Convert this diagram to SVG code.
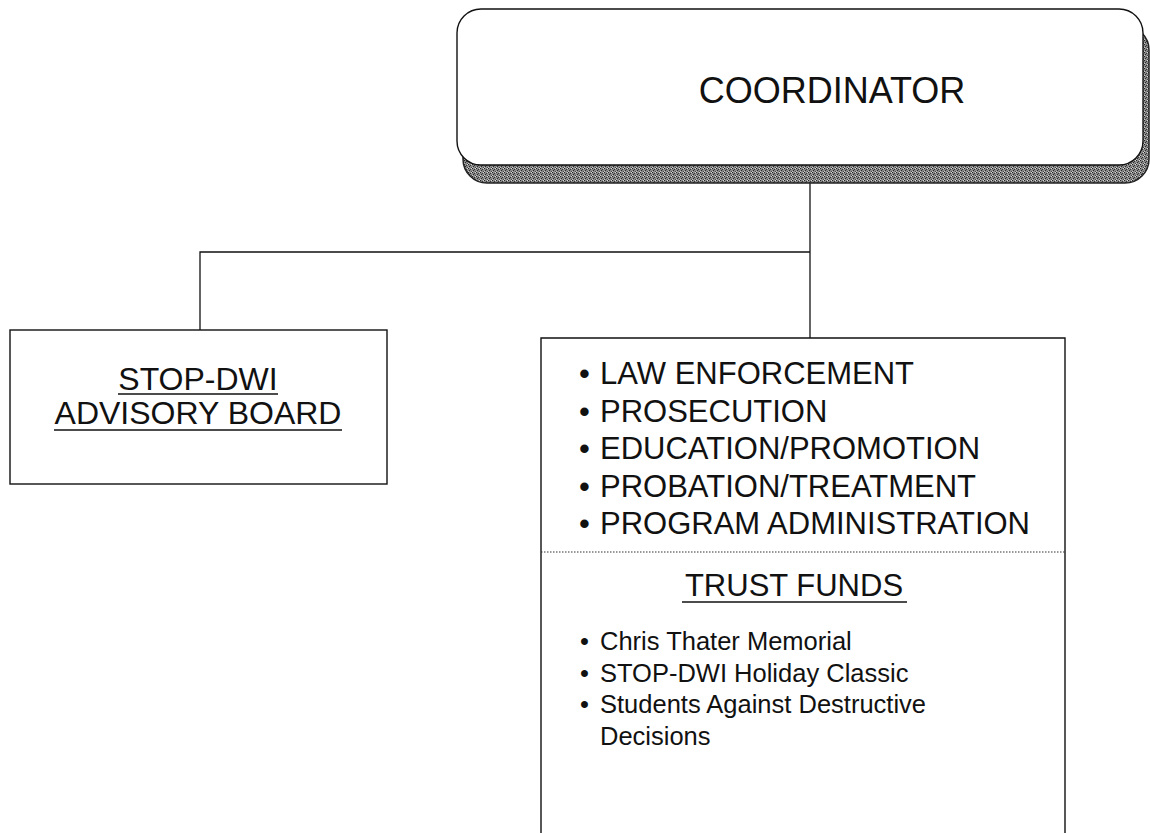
<svg xmlns="http://www.w3.org/2000/svg" width="1150" height="833" viewBox="0 0 1150 833">
<defs>
<pattern id="dither" width="4" height="4" patternUnits="userSpaceOnUse">
<rect width="4" height="4" fill="#8a8a8a"/>
<rect x="0" y="0" width="1" height="1" fill="#222"/>
<rect x="2" y="1" width="1" height="1" fill="#333"/>
<rect x="1" y="2" width="1" height="1" fill="#2a2a2a"/>
<rect x="3" y="3" width="1" height="1" fill="#444"/>
<rect x="3" y="0" width="1" height="1" fill="#d8d8d8"/>
<rect x="0" y="3" width="1" height="1" fill="#c8c8c8"/>
</pattern>
</defs>
<style>
text { font-family: "Liberation Sans", Arial, sans-serif; fill: #111; }
.box { fill: #fff; stroke: #111; stroke-width: 1.4; }
.conn { fill: none; stroke: #111; stroke-width: 1.3; }
.big { font-size: 31px; }
.adv { font-size: 32px; }
.small { font-size: 25.5px; }
.ul { stroke: #111; stroke-width: 1.5; }
</style>
<rect width="1150" height="833" fill="#fff"/>

<g id="connectors">
<path class="conn" d="M810,180 V338"/>
<path class="conn" d="M810,252 H200 V330"/>
</g>

<g id="coordinator">
<rect x="463" y="26" width="686" height="157" rx="24" fill="url(#dither)" stroke="#222" stroke-width="1.5"/>
<rect class="box" x="457" y="9" width="686" height="156" rx="24"/>
<text x="832" y="103" text-anchor="middle" font-size="36">COORDINATOR</text>
</g>

<g id="advisory-board">
<rect class="box" x="10" y="330" width="377" height="154"/>
<text class="adv" x="198" y="390" text-anchor="middle">STOP-DWI</text>
<line class="ul" x1="118" y1="394" x2="278" y2="394"/>
<text class="adv" x="198" y="424" text-anchor="middle">ADVISORY BOARD</text>
<line class="ul" x1="54" y1="430" x2="342" y2="430"/>
</g>

<g id="programs">
<path d="M541,840 V338 H1065 V840" fill="#fff" stroke="#111" stroke-width="1.4"/>
<g class="big">
<text x="579" y="384">•</text><text x="600" y="384">LAW ENFORCEMENT</text>
<text x="579" y="422">•</text><text x="600" y="422">PROSECUTION</text>
<text x="579" y="459">•</text><text x="600" y="459">EDUCATION/PROMOTION</text>
<text x="579" y="497">•</text><text x="600" y="497">PROBATION/TREATMENT</text>
<text x="579" y="534">•</text><text x="600" y="534">PROGRAM ADMINISTRATION</text>
</g>
<line x1="541" y1="552" x2="1065" y2="552" stroke="#333" stroke-width="1.2" stroke-dasharray="1.5,1.5"/>
<text class="big" x="794" y="596" text-anchor="middle">TRUST FUNDS</text>
<line class="ul" x1="682" y1="602" x2="907" y2="602"/>
<g class="small">
<text x="580" y="650">•</text><text x="600" y="650">Chris Thater Memorial</text>
<text x="580" y="682">•</text><text x="600" y="682">STOP-DWI Holiday Classic</text>
<text x="580" y="713">•</text><text x="600" y="713">Students Against Destructive</text>
<text x="600" y="745">Decisions</text>
</g>
</g>
</svg>
